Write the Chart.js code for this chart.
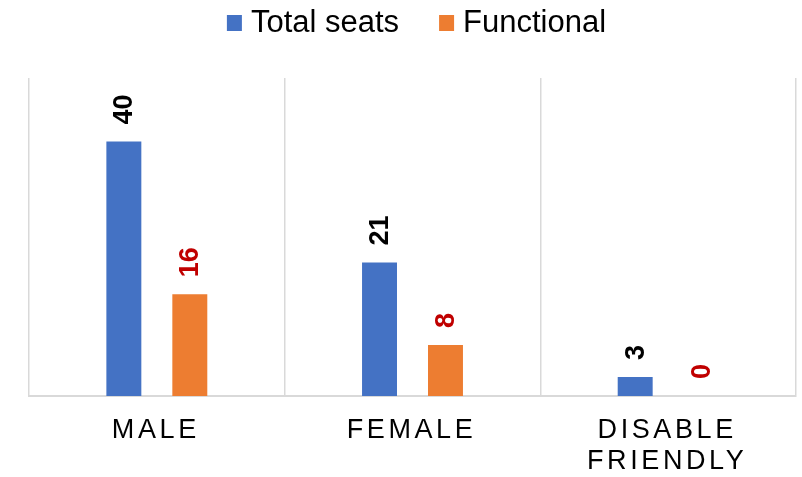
<!DOCTYPE html>
<html>
<head>
<meta charset="utf-8">
<script src="https://cdn.jsdelivr.net/npm/chart.js@4/dist/chart.umd.min.js"></script>
<style>
  html, body { margin: 0; padding: 0; background: #fff; }
  #wrap { width: 802px; height: 477px; }
</style>
</head>
<body>
<div id="wrap"><canvas id="c" width="802" height="477"></canvas></div>
<script>
// Seat counts per toilet block
const categories = [["MALE"], ["FEMALE"], ["DISABLE", "FRIENDLY"]];
const totalSeats = [40, 21, 3];
const functional = [16, 8, 0];
const seriesNames = ["Total seats", "Functional"];
const seriesColors = ["#4472C4", "#ED7D31"];
const labelColors = ["#000000", "#C00000"];

const FONT = "Arial, 'Liberation Sans', sans-serif";

// Rotated value labels above each bar
const valueLabels = {
  id: "valueLabels",
  afterDatasetsDraw(chart) {
    const ctx = chart.ctx;
    chart.data.datasets.forEach((ds, di) => {
      const meta = chart.getDatasetMeta(di);
      meta.data.forEach((bar, i) => {
        ctx.save();
        ctx.translate(bar.x, bar.y - 17);
        ctx.rotate(-Math.PI / 2);
        ctx.font = "bold 27px " + FONT;
        ctx.fillStyle = labelColors[di];
        ctx.textAlign = "left";
        ctx.textBaseline = "middle";
        ctx.fillText(String(ds.data[i]), 0, 1);
        ctx.restore();
      });
    });
  }
};

// Category names under the axis, letter-spaced
const categoryLabels = {
  id: "categoryLabels",
  afterDraw(chart) {
    const ctx = chart.ctx;
    const xs = chart.scales.x;
    const base = chart.chartArea.bottom;
    ctx.save();
    ctx.font = "27px " + FONT;
    ctx.fillStyle = "#000000";
    ctx.textAlign = "center";
    ctx.textBaseline = "middle";
    ctx.letterSpacing = "3.6px";
    categories.forEach((lines, i) => {
      const x = xs.getPixelForValue(i) - 1;
      lines.forEach((t, j) => {
        ctx.fillText(t, x, base + 35 + j * 31);
      });
    });
    ctx.restore();
  }
};

// Series key across the top, centred over the plot area
const seriesKey = {
  id: "seriesKey",
  afterDraw(chart) {
    const ctx = chart.ctx;
    const area = chart.chartArea;
    const box = 15, gap = 9, spacing = 40;
    ctx.save();
    ctx.font = "31px " + FONT;
    ctx.textBaseline = "alphabetic";
    ctx.textAlign = "left";
    const items = chart.data.datasets.map(ds => ({
      text: ds.label,
      color: ds.backgroundColor,
      w: ctx.measureText(ds.label).width
    }));
    const total = items.reduce((s, it) => s + box + gap + it.w, 0) + spacing * (items.length - 1);
    let x = (area.left + area.right) / 2 + 4 - total / 2;
    items.forEach(it => {
      ctx.fillStyle = it.color;
      ctx.fillRect(x, 15, box, 16);
      ctx.fillStyle = "#000000";
      ctx.fillText(it.text, x + box + gap, 32);
      x += box + gap + it.w + spacing;
    });
    ctx.restore();
  }
};

new Chart(document.getElementById("c"), {
  type: "bar",
  data: {
    labels: categories,
    datasets: [
      {
        label: seriesNames[0],
        data: totalSeats,
        backgroundColor: seriesColors[0],
        categoryPercentage: 0.516,
        barPercentage: 0.53
      },
      {
        label: seriesNames[1],
        data: functional,
        backgroundColor: seriesColors[1],
        categoryPercentage: 0.516,
        barPercentage: 0.53
      }
    ]
  },
  options: {
    responsive: false,
    animation: false,
    layout: { padding: { left: 29, right: 6, top: 78, bottom: 81 } },
    plugins: {
      legend: { display: false },
      tooltip: { enabled: false }
    },
    scales: {
      x: {
        offset: true,
        grid: {
          offset: true,
          color: "#D9D9D9",
          lineWidth: 1.5,
          drawTicks: false
        },
        border: { color: "#D9D9D9", width: 2 },
        ticks: { display: false }
      },
      y: {
        display: false,
        min: 0,
        max: 50
      }
    }
  },
  plugins: [valueLabels, categoryLabels, seriesKey]
});
</script>
</body>
</html>
